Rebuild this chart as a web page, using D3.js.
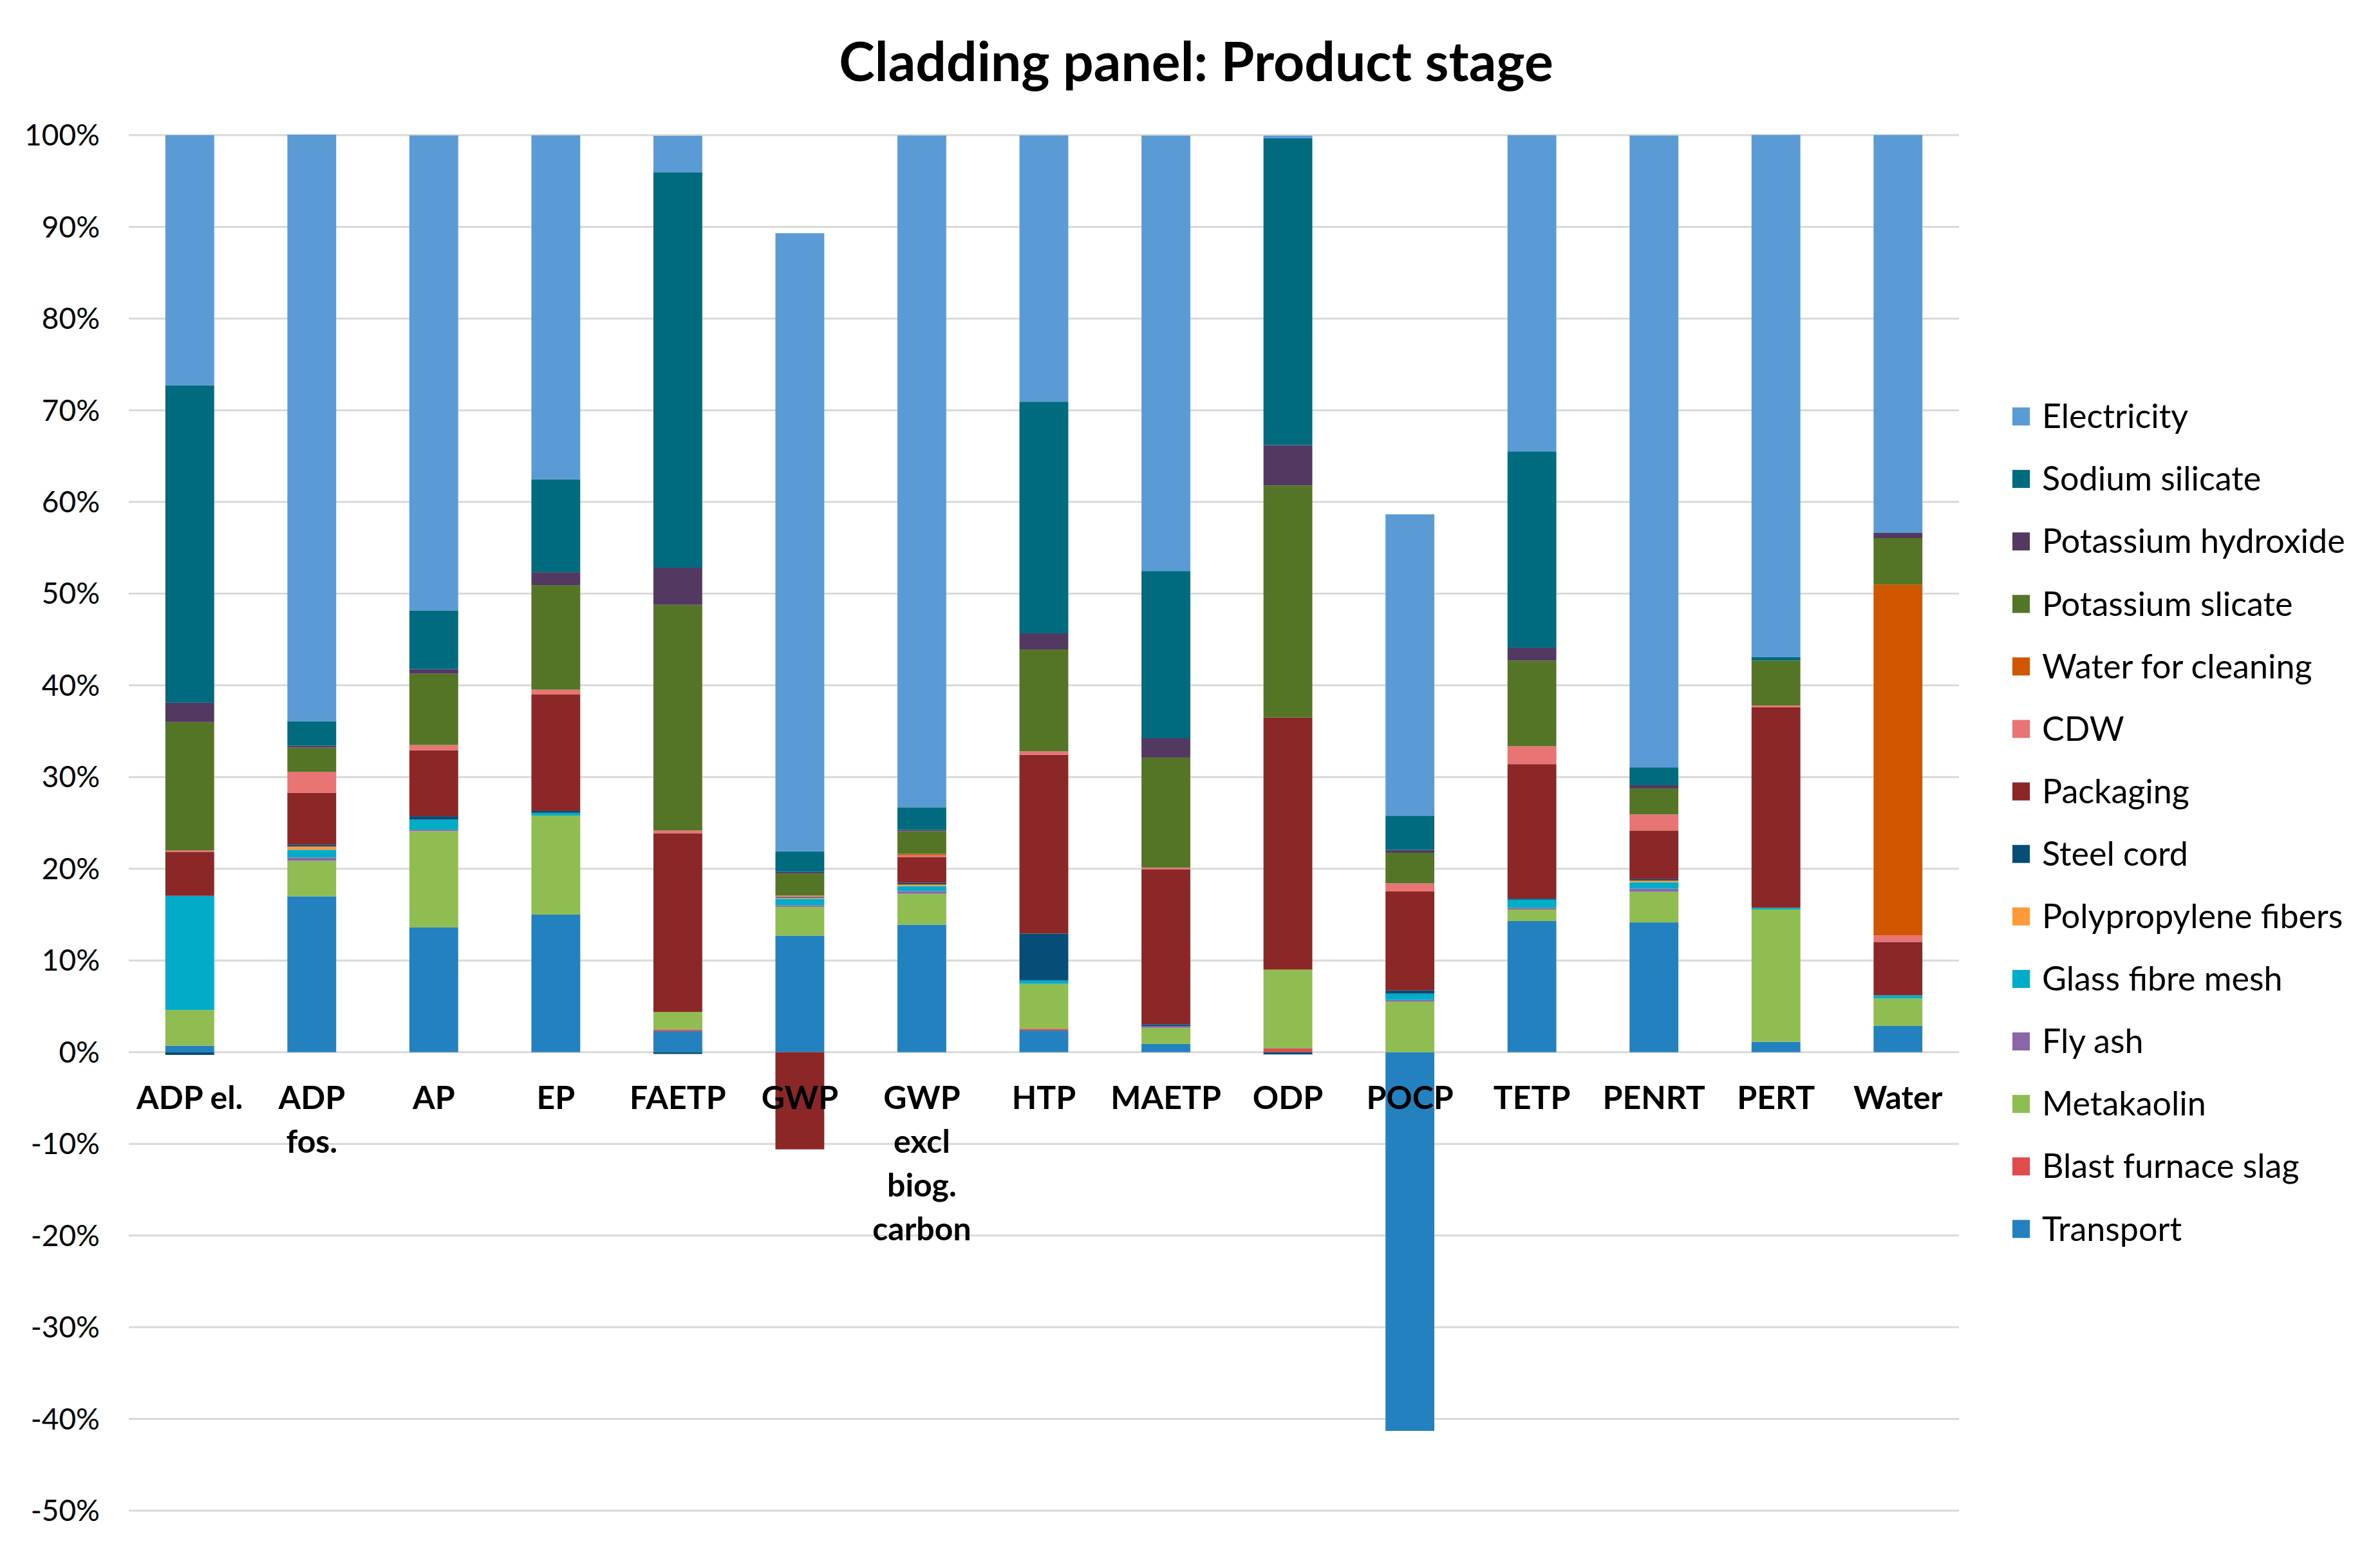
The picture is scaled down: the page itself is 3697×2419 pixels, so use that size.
<!DOCTYPE html>
<html>
<head>
<meta charset="utf-8">
<script src="https://d3js.org/d3.v7.min.js"></script>
<style>
  body { margin: 0; background: #fff; }
  .axis text { font-family: Lato, "Open Sans", sans-serif; }
</style>
</head>
<body>
<script type="text/javascript">
// categories (x axis), multi-line labels
var categories = ["ADP el.", "ADP fos.", "AP", "EP", "FAETP", "GWP", "GWP excl biog. carbon",
  "HTP", "MAETP", "ODP", "POCP", "TETP", "PENRT", "PERT", "Water"];
var categoryLines = [["ADP el."], ["ADP", "fos."], ["AP"], ["EP"], ["FAETP"], ["GWP"],
  ["GWP", "excl", "biog.", "carbon"], ["HTP"], ["MAETP"], ["ODP"], ["POCP"], ["TETP"],
  ["PENRT"], ["PERT"], ["Water"]];

// series values in %, bottom of the stack first
var transport      = [0.7, 17.0, 13.6, 15.0, 2.3, 12.7, 13.9, 2.36, 0.9, 0, -41.3, 14.3, 14.15, 1.13, 2.86];
var blastSlag      = [0, 0, 0, 0, 0.18, 0, 0, 0.19, 0, 0.4, 0, 0, 0, 0, 0];
var metakaolin     = [3.9, 3.87, 10.5, 10.8, 1.9, 3.15, 3.37, 4.9, 1.76, 8.6, 5.5, 1.26, 3.33, 14.43, 2.99];
var flyAsh         = [0, 0.35, 0.15, 0, 0, 0.18, 0.29, 0, 0.19, 0, 0.19, 0.19, 0.35, 0, 0];
var glassFibre     = [12.45, 0.85, 1.1, 0.3, 0, 0.7, 0.54, 0.38, 0, 0, 0.69, 0.88, 0.69, 0.19, 0.35];
var polypropylene  = [0, 0.35, 0, 0, 0, 0.1, 0.18, 0, 0, 0, 0, 0, 0.19, 0, 0];
var steelCord      = [-0.3, 0.2, 0.38, 0.2, -0.2, 0.1, 0.18, 5.1, 0.19, -0.25, 0.35, 0.13, 0.16, 0, 0];
var packaging      = [4.8, 5.66, 7.2, 12.7, 19.5, -10.6, 2.83, 19.5, 16.9, 27.5, 10.8, 14.65, 5.3, 21.86, 5.82];
var cdw            = [0.15, 2.3, 0.57, 0.53, 0.3, 0.15, 0.18, 0.38, 0.19, 0, 0.88, 1.95, 1.76, 0.19, 0.72];
var waterCleaning  = [0, 0, 0, 0, 0, 0, 0.15, 0, 0, 0, 0, 0, 0, 0, 38.25];
var kSilicate      = [14.0, 2.64, 7.77, 11.4, 24.6, 2.4, 2.47, 11.1, 12.0, 25.3, 3.33, 9.34, 2.83, 4.9, 5.07];
var kHydroxide     = [2.1, 0.2, 0.5, 1.4, 4.05, 0.18, 0.14, 1.76, 2.1, 4.4, 0.31, 1.42, 0.35, 0, 0.56];
var naSilicate     = [34.6, 2.64, 6.4, 10.15, 43.1, 2.25, 2.47, 25.26, 18.24, 33.45, 3.74, 21.4, 1.95, 0.38, 0];
var electricity    = [27.3, 64.0, 51.8, 37.5, 4.0, 67.4, 73.26, 29.04, 47.48, 0.3, 32.86, 34.47, 68.9, 56.95, 43.4];

var seriesNames = ["Transport", "Blast furnace slag", "Metakaolin", "Fly ash", "Glass fibre mesh",
  "Polypropylene fibers", "Steel cord", "Packaging", "CDW", "Water for cleaning",
  "Potassium slicate", "Potassium hydroxide", "Sodium silicate", "Electricity"];
var seriesValues = [transport, blastSlag, metakaolin, flyAsh, glassFibre, polypropylene, steelCord,
  packaging, cdw, waterCleaning, kSilicate, kHydroxide, naSilicate, electricity];
var seriesColors = ["#2481c0", "#e04c4c", "#8fbd51", "#8b66a6", "#00acc8", "#ff9a3c", "#064d78",
  "#8b2727", "#e87474", "#d15600", "#557526", "#533862", "#006a7f", "#5b9bd5"];

var yTicks = [100, 90, 80, 70, 60, 50, 40, 30, 20, 10, 0, -10, -20, -30, -40, -50];

// build rows for d3.stack
var rows = categories.map(function(c, i) {
  var r = { cat: c };
  seriesNames.forEach(function(s, j) { r[s] = seriesValues[j][i]; });
  return r;
});

var W = 3697, H = 2419;
var plot = { left: 200, right: 3043, top: 210, bottom: 2347 };

var svg = d3.select("body").append("svg")
  .attr("width", W).attr("height", H)
  .style("background", "#fff");

var x = d3.scaleBand().domain(categories)
  .range([plot.left, plot.right])
  .paddingInner(0.6).paddingOuter(0.3);
var y = d3.scaleLinear().domain([-50, 100]).range([plot.bottom, plot.top]);

// gridlines
svg.append("g").selectAll("line").data(yTicks).enter().append("line")
  .attr("x1", plot.left).attr("x2", plot.right)
  .attr("y1", function(d) { return y(d); }).attr("y2", function(d) { return y(d); })
  .attr("stroke", "#d9d9d9").attr("stroke-width", 3);

// y labels
svg.append("g").attr("class", "axis").selectAll("text").data(yTicks).enter().append("text")
  .attr("x", 155).attr("y", function(d) { return y(d); })
  .attr("dy", "0.35em")
  .attr("text-anchor", "end")
  .style("font-size", "46px").style("fill", "#000")
  .text(function(d) { return d + "%"; });

// stacked bars
var stack = d3.stack().keys(seriesNames).offset(d3.stackOffsetDiverging);
var layers = stack(rows);

svg.append("g").selectAll("g").data(layers).enter().append("g")
  .attr("fill", function(d, i) { return seriesColors[i]; })
  .selectAll("rect").data(function(d) { return d; }).enter().append("rect")
  .attr("x", function(d) { return x(d.data.cat); })
  .attr("width", x.bandwidth())
  .attr("y", function(d) { return y(Math.max(d[0], d[1])); })
  .attr("height", function(d) { return Math.abs(y(d[0]) - y(d[1])); });

// x labels
var xl = svg.append("g").attr("class", "axis").selectAll("text").data(categories).enter().append("text")
  .attr("x", function(d) { return x(d) + x.bandwidth() / 2; })
  .attr("y", 1723)
  .attr("text-anchor", "middle")
  .style("font-size", "50px").style("font-weight", "bold").style("fill", "#000");
xl.each(function(d, i) {
  var t = d3.select(this);
  categoryLines[i].forEach(function(line, k) {
    t.append("tspan").attr("x", x(d) + x.bandwidth() / 2)
      .attr("dy", k === 0 ? 0 : 68).text(line);
  });
});

// title
svg.append("text")
  .attr("x", 1858).attr("y", 126)
  .attr("text-anchor", "middle")
  .style("font-family", "Lato, 'Open Sans', sans-serif")
  .style("font-size", "84px").style("font-weight", "bold")
  .text("Cladding panel: Product stage");

// legend, top to bottom = reverse of stacking order
var legendItems = seriesNames.map(function(s, i) { return { name: s, color: seriesColors[i] }; }).reverse();
var lg = svg.append("g").selectAll("g").data(legendItems).enter().append("g")
  .attr("transform", function(d, i) { return "translate(3126," + (647 + i * 97.1) + ")"; });
lg.append("rect").attr("x", 0).attr("y", -14).attr("width", 27).attr("height", 28)
  .attr("fill", function(d) { return d.color; });
lg.append("text").attr("x", 46).attr("y", 0).attr("dy", "0.35em")
  .style("font-family", "Lato, 'Open Sans', sans-serif")
  .style("font-size", "52px").style("fill", "#000")
  .text(function(d) { return d.name; });
</script>
</body>
</html>
